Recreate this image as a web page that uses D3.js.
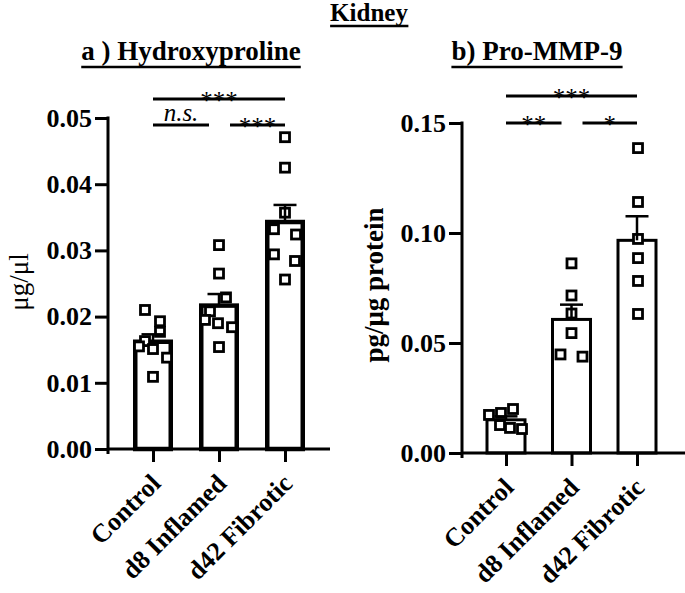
<!DOCTYPE html>
<html><head><meta charset="utf-8">
<script src="https://cdn.jsdelivr.net/npm/d3@7"></script>
<style>
body{margin:0;background:#fff;}
svg{display:block;}
text{font-family:"Liberation Serif","Times New Roman",serif;}
</style></head>
<body>
<svg id="chart" width="685" height="593"></svg>
<script>
// ---------- data ----------
const categories = ["Control", "d8 Inflamed", "d42 Fibrotic"];
const hypYTicks = [0, 0.01, 0.02, 0.03, 0.04, 0.05];
const mmpYTicks = [0, 0.05, 0.10, 0.15];

const hypControl = [0.0210, 0.0193, 0.0177, 0.0163, 0.0155, 0.0151, 0.0138, 0.0109];
const hypD8      = [0.0308, 0.0265, 0.0229, 0.0208, 0.0195, 0.0190, 0.0184, 0.0154];
const hypD42     = [0.0471, 0.0425, 0.0357, 0.0332, 0.0324, 0.0294, 0.0284, 0.0256];

const mmpControl = [0.0173, 0.0182, 0.0200, 0.0127, 0.0114, 0.0109];
const mmpD8      = [0.0862, 0.0716, 0.0634, 0.0545, 0.0448, 0.0438];
const mmpD42     = [0.1386, 0.1141, 0.0973, 0.0886, 0.0782, 0.0632];

// significance labels
const hypSig = [{from:0, to:2, label:"***", level:1}, {from:0, to:1, label:"n.s.", level:0, italic:true}, {from:1, to:2, label:"***", level:0}];
const mmpSig = [{from:0, to:2, label:"***", level:1}, {from:0, to:1, label:"**", level:0}, {from:1, to:2, label:"*", level:0}];

// ---------- layout (horizontal scatter offsets, px) ----------
const hypJitter = [[-8, 7, 7, -8, -14, 0, 14, 0], [0, 0, 7, -9, -14, -1, 13, 0], [0, 0, 0, -11, 11, -11, 10, 0]];
const mmpJitter = [[-17, -5, 7, -6, 4, 16], [0, 0, 0, 0, -11, 11], [1, 1, 1, 1, 1, 1]];

const svg = d3.select("#chart");
const FONT = "Liberation Serif";

function panel(opts) {
  const g = svg.append("g");
  const x = d3.scalePoint().domain(categories).range(opts.xRange);
  const y = d3.scaleLinear().domain(opts.yDomain).range(opts.yRange);
  const series = opts.series;
  const bw = opts.barW;

  // bars
  categories.forEach((c, i) => {
    const m = d3.mean(series[i]);
    g.append("rect")
      .attr("x", x(c) - bw / 2).attr("width", bw)
      .attr("y", y(m)).attr("height", y(0) - y(m))
      .attr("fill", "#fff").attr("stroke", "#000").attr("stroke-width", opts.barStroke);
  });
  // points
  categories.forEach((c, i) => {
    g.selectAll(null).data(series[i]).enter().append("rect")
      .attr("x", (d, j) => x(c) + opts.jitter[i][j] - 4.5)
      .attr("y", d => y(d) - 4.5)
      .attr("width", 9).attr("height", 9)
      .attr("fill", "#fff").attr("stroke", "#000").attr("stroke-width", 2.8);
  });
  // error bars (mean + SEM)
  categories.forEach((c, i) => {
    const m = d3.mean(series[i]);
    const sem = d3.deviation(series[i]) / Math.sqrt(series[i].length);
    g.append("line").attr("x1", x(c)).attr("x2", x(c)).attr("y1", y(m)).attr("y2", y(m + sem))
      .attr("stroke", "#000").attr("stroke-width", 2.5);
    g.append("line").attr("x1", x(c) - 11.5).attr("x2", x(c) + 11.5).attr("y1", y(m + sem)).attr("y2", y(m + sem))
      .attr("stroke", "#000").attr("stroke-width", 2.5);
  });

  // y axis
  const yAxis = d3.axisLeft(y).tickValues(opts.yTicks).tickFormat(d3.format(".2f")).tickSize(13).tickPadding(3);
  const ya = g.append("g").attr("transform", `translate(${opts.axisX},0)`).call(yAxis);
  ya.select(".domain").remove();
  ya.append("line").attr("x1", 0).attr("x2", 0).attr("y1", y(opts.yDomain[1]) - 1.5).attr("y2", y(0) + 5)
    .attr("stroke", "#000").attr("stroke-width", 3);
  ya.selectAll(".tick line").attr("stroke-width", 3);
  ya.selectAll(".tick text").attr("font-family", FONT).attr("font-weight", "bold").attr("font-size", 26).attr("fill", "#000");

  // x axis
  g.append("line").attr("x1", opts.axisX).attr("x2", opts.xEnd).attr("y1", y(0)).attr("y2", y(0))
    .attr("stroke", "#000").attr("stroke-width", 3);
  const xAxis = d3.axisBottom(x).tickSize(13).tickFormat("");
  const xa = g.append("g").attr("transform", `translate(0,${y(0)})`).call(xAxis);
  xa.select(".domain").remove();
  xa.selectAll(".tick line").attr("stroke-width", 3);
  categories.forEach(c => {
    g.append("text")
      .attr("transform", `translate(${x(c) + 9},${y(0) + 36}) rotate(-45)`)
      .attr("text-anchor", "end").attr("font-family", FONT).attr("font-weight", "bold")
      .attr("font-size", 26).text(c);
  });

  // y label
  g.append("text")
    .attr("transform", `translate(${opts.yLabelX},${opts.yLabelY}) rotate(-90)`)
    .attr("text-anchor", "middle").attr("font-family", FONT)
    .attr("font-weight", opts.yLabelBold ? "bold" : "normal")
    .attr("font-size", opts.yLabelSize).text(opts.yLabel);

  // significance
  opts.sig.forEach(s => {
    const ly = opts.sigY[s.level];
    const x1 = x(categories[s.from]) + (s.level === 0 && s.from === 1 ? 11 : 0);
    const x2 = x(categories[s.to]) - (s.level === 0 && s.to === 1 ? 10 : 0);
    g.append("line").attr("x1", x1).attr("x2", x2).attr("y1", ly).attr("y2", ly)
      .attr("stroke", "#000").attr("stroke-width", 3);
    g.append("text").attr("x", (x1 + x2) / 2).attr("y", ly + (s.italic ? -4 : 10))
      .attr("text-anchor", "middle").attr("font-family", FONT)
      .attr("font-style", s.italic ? "italic" : "normal")
      .attr("font-size", 25).text(s.label);
  });

  // panel title with underline
  const t = g.append("text").attr("x", opts.titleX).attr("y", 60).attr("text-anchor", "middle")
    .attr("font-family", FONT).attr("font-weight", "bold").attr("font-size", 27).text(opts.title);
  const bb = t.node().getBBox();
  g.append("line").attr("x1", bb.x).attr("x2", bb.x + bb.width).attr("y1", 67).attr("y2", 67)
    .attr("stroke", "#000").attr("stroke-width", 2.5);
}

panel({
  series: [hypControl, hypD8, hypD42], jitter: hypJitter,
  xRange: [153, 285], yDomain: [0, 0.05], yRange: [449, 118], yTicks: hypYTicks,
  axisX: 108, xEnd: 330, barW: 35.5, barStroke: 4.5,
  yLabel: "μg/μl", yLabelX: 28, yLabelY: 282, yLabelBold: false, yLabelSize: 27,
  sig: hypSig, sigY: [125, 99], title: "a ) Hydroxyproline", titleX: 191
});
panel({
  series: [mmpControl, mmpD8, mmpD42], jitter: mmpJitter,
  xRange: [506, 637], yDomain: [0, 0.15], yRange: [453, 123], yTicks: mmpYTicks,
  axisX: 462, xEnd: 685, barW: 38, barStroke: 3,
  yLabel: "pg/μg protein", yLabelX: 383, yLabelY: 285, yLabelBold: true, yLabelSize: 27,
  sig: mmpSig, sigY: [123, 96], title: "b) Pro-MMP-9", titleX: 537
});

// main title
const mt = svg.append("text").attr("x", 369).attr("y", 21).attr("text-anchor", "middle")
  .attr("font-family", FONT).attr("font-weight", "bold").attr("font-size", 25).text("Kidney");
const mb = mt.node().getBBox();
svg.append("line").attr("x1", mb.x).attr("x2", mb.x + mb.width).attr("y1", 26).attr("y2", 26)
  .attr("stroke", "#000").attr("stroke-width", 2.5);
</script>
</body></html>
